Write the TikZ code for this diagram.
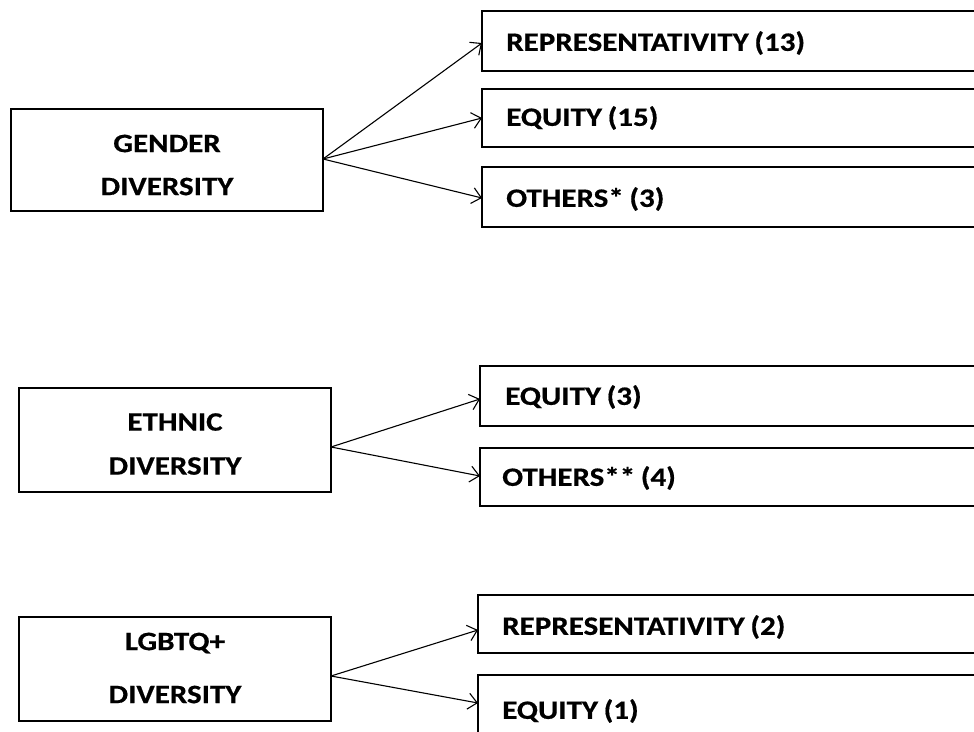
\documentclass[tikz,border=0pt]{standalone}
\usepackage{fontspec}
\setmainfont{Carlito}
\newfontfamily\boxfont[FakeStretch=1.17,FakeBold=0.6,WordSpace=0.8]{Carlito}
\usetikzlibrary{arrows.meta}
\begin{document}
\begin{tikzpicture}[x=1pt,y=-1pt,
  catbox/.style={draw,line width=1.4pt,fill=white},
  cattext/.style={font=\boxfont\bfseries\fontsize{26.5}{31}\selectfont,anchor=west,inner sep=0pt},
  maintext/.style={font=\boxfont\bfseries\fontsize{26.5}{31}\selectfont,align=center,inner sep=0pt},
  arr/.style={line width=1.1pt,-{Straight Barb[length=9pt,width=16pt,line width=1.1pt]}}]
\useasboundingbox (0,0) rectangle (974,731);
\clip (0,0) rectangle (974,731);
% left boxes
\draw[catbox] (11,109) rectangle (323,211);
\node[maintext] (gender) at (167,165) {GENDER\\[12pt]DIVERSITY};
\coordinate (gsrc) at (323,159);
\draw[catbox] (19,388) rectangle (331,492);
\node[maintext] (ethnic) at (175,444) {ETHNIC\\[13pt]DIVERSITY};
\coordinate (esrc) at (331,447);
\draw[catbox] (19,617) rectangle (331,721);
\node[maintext] (lgbtq) at (175,668) {LGBTQ+\\[22pt]DIVERSITY};
\coordinate (lsrc) at (331,676);
% right boxes: gender
\draw[catbox] (482,11) rectangle (990,71);
\coordinate (g1) at (482,43);
\node[cattext] (g1t) at (506,43) {REPRESENTATIVITY (13)};
\draw[catbox] (482,89) rectangle (990,147);
\coordinate (g2) at (482,118);
\node[cattext] (g2t) at (506,118) {EQUITY (15)};
\draw[catbox] (482,167) rectangle (990,227);
\coordinate (g3) at (482,198);
\node[cattext] (g3t) at (506,199) {OTHERS* (3)};
% right boxes: ethnic
\draw[catbox] (480,366) rectangle (990,426);
\coordinate (e1) at (480,399);
\node[cattext] (e1t) at (505,397) {EQUITY (3)};
\draw[catbox] (480,448) rectangle (990,506);
\coordinate (e2) at (480,476);
\node[cattext] (e2t) at (502,478) {OTHERS** (4)};
% right boxes: lgbtq
\draw[catbox] (478,595) rectangle (990,653);
\coordinate (l1) at (478,630);
\node[cattext] (l1t) at (502,627) {REPRESENTATIVITY (2)};
\draw[catbox] (478,675) rectangle (990,760);
\coordinate (l2) at (478,703);
\node[cattext] (l2t) at (502,711) {EQUITY (1)};
% arrows
\draw[arr] (gsrc) -- (g1);
\draw[arr] (gsrc) -- (g2);
\draw[arr] (gsrc) -- (g3);
\draw[arr] (esrc) -- (e1);
\draw[arr] (esrc) -- (e2);
\draw[arr] (lsrc) -- (l1);
\draw[arr] (lsrc) -- (l2);
\end{tikzpicture}
\end{document}
